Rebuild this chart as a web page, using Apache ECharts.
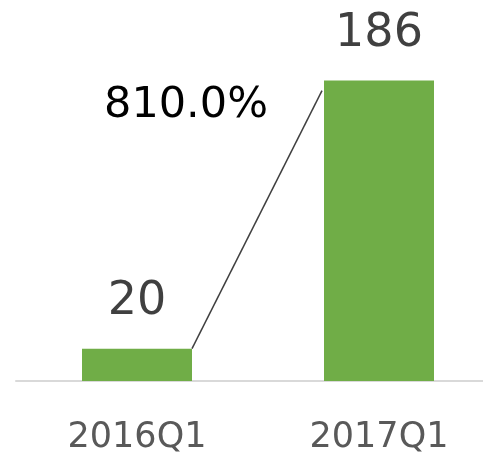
<!DOCTYPE html>
<html>
<head>
<meta charset="utf-8">
<script src="https://cdn.jsdelivr.net/npm/echarts@6/dist/echarts.min.js"></script>
<style>
  html, body { margin: 0; padding: 0; background: #fff; }
  #chart { width: 483px; height: 453px; }
</style>
</head>
<body>
<div id="chart"></div>
<script>
var categories = ['2016Q1', '2017Q1']
var values = [20, 186]
var growthLabel = '810.0%'

var chart = echarts.init(document.getElementById('chart'))
var barWidth = 110
var font = 'DejaVu Sans, Verdana, sans-serif'

var option = {
    animation: false,
    grid: { left: 16, right: -17, top: 58, bottom: 72, containLabel: false, outerBoundsMode: 'none' },
    xAxis: {
        type: 'category',
        data: categories,
        axisLine: { lineStyle: { color: '#d9d9d9', width: 2 } },
        axisTick: { show: false },
        axisLabel: { color: '#595959', fontSize: 35, fontFamily: font, margin: 39 }
    },
    yAxis: {
        type: 'value', min: 0, max: 200,
        show: false, splitLine: { show: false }
    },
    series: [
        {
            type: 'bar',
            data: values,
            barWidth: barWidth,
            itemStyle: { color: '#70ad47' },
            label: {
                show: true, position: 'top', distance: 24,
                color: '#404040', fontSize: 46, fontFamily: font
            }
        },
        {
            // growth connector between the two bars
            type: 'custom',
            data: [[0, values[0], 1, values[1]]],
            renderItem: function (params, api) {
                var p0 = api.coord([api.value(0), api.value(1)])
                var p1 = api.coord([api.value(2), api.value(3)])
                var x0 = p0[0] + barWidth / 2
                var x1 = p1[0] - barWidth / 2 - 2
                var y1 = p1[1] + 10
                return {
                    type: 'group',
                    children: [
                        {
                            type: 'line',
                            shape: { x1: x0, y1: p0[1], x2: x1, y2: y1 },
                            style: { stroke: '#404040', lineWidth: 1.5 }
                        },
                        {
                            type: 'text',
                            style: {
                                text: growthLabel, x: x1 - 54, y: y1 + 15,
                                align: 'right', verticalAlign: 'middle',
                                fill: '#000', fontSize: 43, fontFamily: font
                            }
                        }
                    ]
                }
            }
        }
    ]
}
chart.setOption(option)
</script>
</body>
</html>
